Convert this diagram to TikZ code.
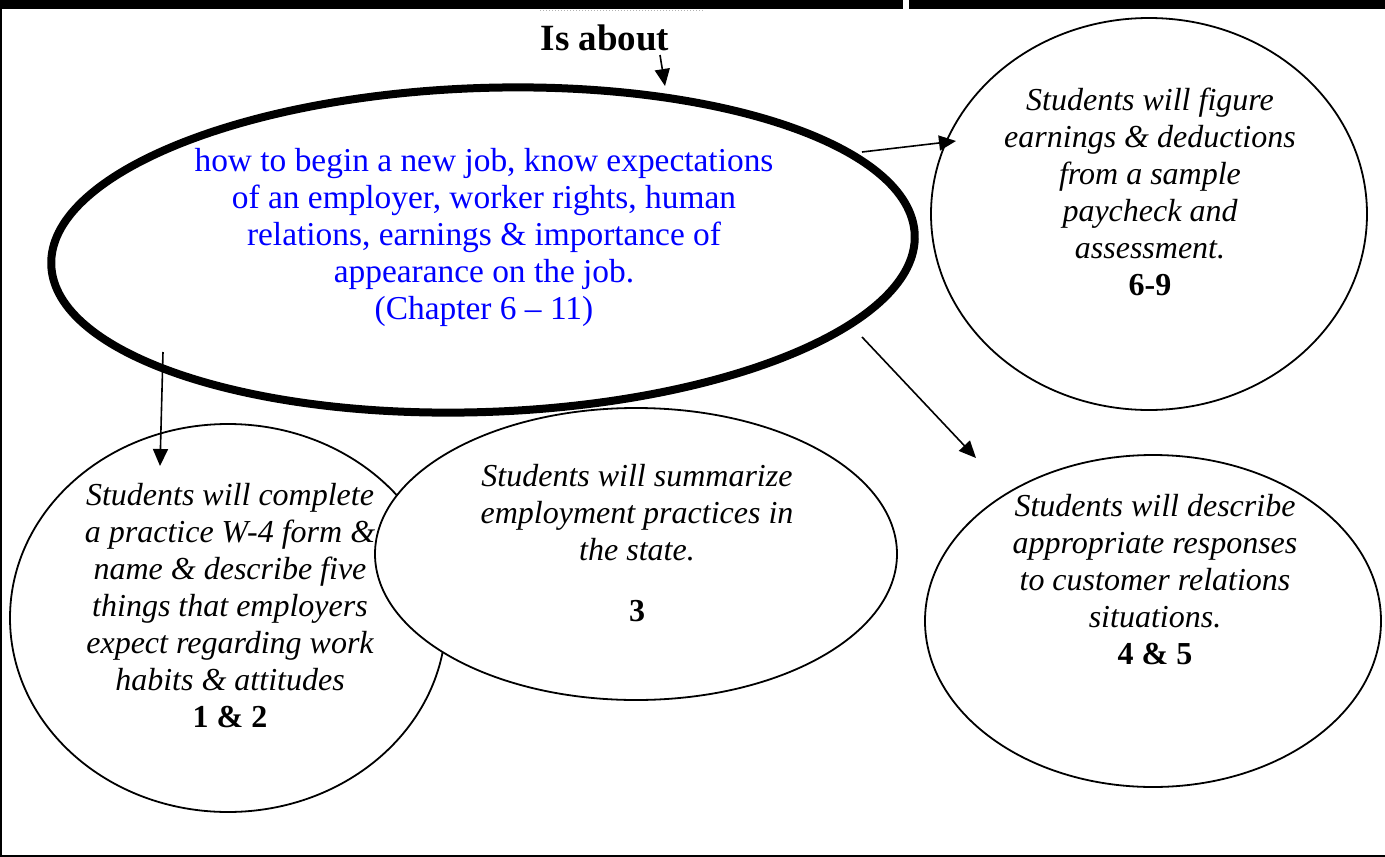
\documentclass[tikz,border=0pt]{standalone}
\usepackage{fontspec}
\setmainfont{Liberation Serif}
\usetikzlibrary{shapes.geometric,arrows.meta}
\definecolor{bluetext}{RGB}{0,0,255}
\begin{document}
\begin{tikzpicture}[x=1pt,y=-1pt,
  oval/.style={draw=black, line width=1.8pt, fill=white, ellipse, inner sep=0pt},
  bigoval/.style={draw=black, line width=8pt, ellipse, inner sep=0pt},
  itext/.style={align=center, inner sep=0pt, font=\fontsize{32}{37}\selectfont\itshape},
  btext/.style={align=center, inner sep=0pt, text=bluetext, font=\fontsize{33.4}{37}\selectfont},
  conn/.style={line width=1.6pt, -{Triangle[length=17pt,width=15pt]}},
]
\useasboundingbox (0,0) rectangle (1385,857);
% top bar
\fill[black] (0,0) rectangle (903,9);
\fill[black] (909,0) rectangle (1385,9);
\draw[gray!60, line width=1pt, dotted] (540,10) -- (704,10);
% ovals
\node[oval, minimum width=436pt, minimum height=388pt] (c12) at (228,618) {};
\node[oval, minimum width=522pt, minimum height=292pt] (c3) at (636,554) {};
\node[bigoval, rotate=2, minimum width=864pt, minimum height=324pt] (main) at (483,250) {};
\node[oval, minimum width=436pt, minimum height=392pt] (c69) at (1149,214) {};
\node[oval, minimum width=456pt, minimum height=332pt] (c45) at (1153,621) {};
% texts
\node[align=center, inner sep=0pt, font=\fontsize{37}{40}\selectfont\bfseries] (isabout) at (605,38) {Is about};
\node[btext] (maintext) at (484,237) {how to begin a new job, know expectations\\of an employer, worker rights, human\\relations, earnings \& importance of\\appearance on the job.\\(Chapter 6 -- 11)};
\node[itext] (t69) at (1150,192) {Students will figure\\earnings \& deductions\\from a sample\\paycheck and\\assessment.\\\textbf{\upshape 6-9}};
\node[itext] (t12) at (230,606) {Students will complete\\a practice W-4 form \&\\name \& describe five\\things that employers\\expect regarding work\\habits \& attitudes\\\textbf{\upshape 1 \& 2}};
\node[itext] (t3) at (637,543) {Students will summarize\\employment practices in\\the state.\\[24pt]\textbf{\upshape 3}};
\node[itext] (t45) at (1155,580) {Students will describe\\appropriate responses\\to customer relations\\situations.\\\textbf{\upshape 4 \& 5}};
% connectors
\coordinate (a0) at (660,55);
\coordinate (a1) at (665,86);
\coordinate (b0) at (862,152);
\coordinate (b1) at (956,141);
\coordinate (d0) at (163,352);
\coordinate (d1) at (160,466);
\coordinate (e0) at (862,337);
\coordinate (e1) at (976,458);
\draw[conn] (a0) -- (a1);
\draw[conn] (b0) -- (b1);
\draw[conn] (d0) -- (d1);
\draw[conn] (e0) -- (e1);
% frame
\draw[line width=2pt] (1,9) -- (1,856) -- (1385,856);
\end{tikzpicture}
\end{document}
